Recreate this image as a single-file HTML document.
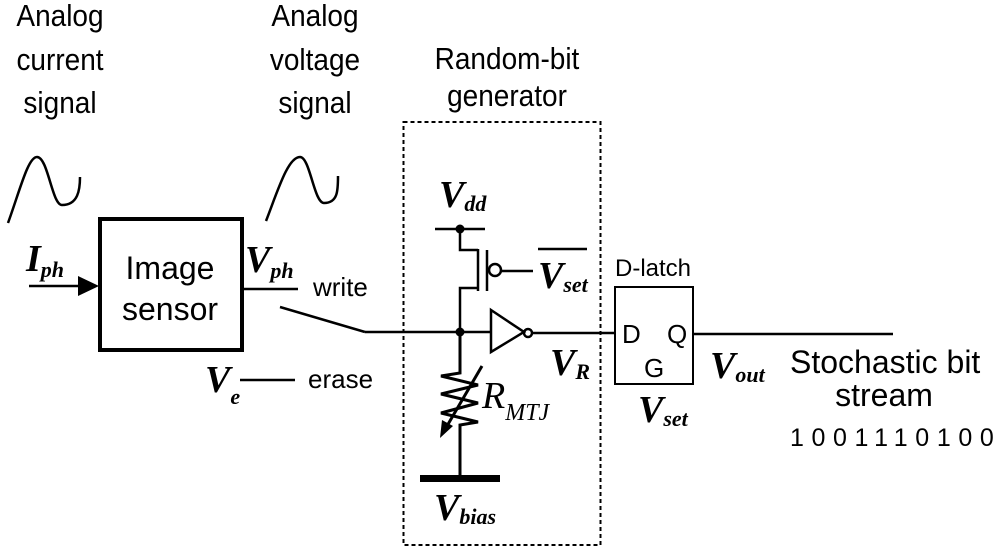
<!DOCTYPE html>
<html><head><style>
body{margin:0;background:#fff}
svg{display:block}
.s{font-family:"Liberation Sans",sans-serif;fill:#000}
.v{font-family:"Liberation Serif",serif;font-style:italic;font-weight:bold;fill:#000}
</style></head><body>
<svg width="996" height="548" viewBox="0 0 996 548" xmlns="http://www.w3.org/2000/svg">
<g class="s" font-size="28" text-anchor="middle">
<text x="60" y="26" transform="translate(0,-2.6) scale(1,1.1)">Analog</text><text x="60" y="70" transform="translate(0,-7) scale(1,1.1)">current</text><text x="60" y="113" transform="translate(0,-11.3) scale(1,1.1)">signal</text>
<text x="315" y="26" transform="translate(0,-2.6) scale(1,1.1)">Analog</text><text x="315" y="70" transform="translate(0,-7) scale(1,1.1)">voltage</text><text x="315" y="113" transform="translate(0,-11.3) scale(1,1.1)">signal</text>
<text x="507" y="69" transform="translate(0,-6.9) scale(1,1.1)">Random-bit</text><text x="507" y="106" transform="translate(0,-10.6) scale(1,1.1)">generator</text>
</g>
<g fill="none" stroke="#000" stroke-width="2.5">
<path d="M8 223 C20 190 28 157 37 157 C48 157 52 205 62 205 C78 205 80 190 80 177"/>
<path d="M266 221 C278 190 288 157 300 157 C310 157 314 203 324 203 C338 203 338 190 338 176"/>
<rect x="100" y="219" width="142" height="131" stroke-width="4"/>
<line x1="29" y1="286" x2="80" y2="286"/>
<line x1="242" y1="289" x2="298" y2="289"/>
<line x1="280" y1="307" x2="365" y2="332"/>
<line x1="365" y1="332" x2="491" y2="332"/>
<line x1="240" y1="380" x2="295" y2="380"/>
<rect x="403.5" y="122" width="197" height="423" stroke-width="2" stroke-dasharray="4,3"/>
<line x1="435" y1="229" x2="485" y2="229"/>
<path d="M460 229 V250 H478 M478 249 V291 M487 250 V291 M478 288 H460 V332"/>
<circle cx="495" cy="270" r="6"/>
<line x1="501" y1="271" x2="533" y2="271"/>
<line x1="538" y1="249" x2="587" y2="249"/>
<path d="M491 310 L524 332 L491 352 Z"/>
<circle cx="528" cy="333" r="4"/>
<line x1="532" y1="333" x2="615" y2="333"/>
<path d="M460 332 V373 L441 376 L478 385 L441 394 L478 403 L441 413 L478 422 L460 425 V478" stroke-width="3"/>
<line x1="482" y1="366" x2="447" y2="426" stroke-width="3"/>
<rect x="615" y="287" width="78" height="97" stroke-width="2"/>
<line x1="693" y1="334" x2="893" y2="334"/>
</g>
<path d="M78 276 L99 286 L78 296 Z"/>
<path d="M440 438 L442 420 L453 426 Z"/>
<circle cx="460" cy="229" r="4.5"/>
<circle cx="460" cy="332" r="4.5"/>
<rect x="420" y="475" width="80" height="7"/>
<g class="s" font-size="32" text-anchor="middle"><text x="170" y="279">Image</text><text x="170" y="320">sensor</text></g>
<g class="s" font-size="26"><text x="313" y="296">write</text><text x="308" y="388">erase</text></g>
<g class="s" font-size="24"><text x="615" y="276">D-latch</text></g>
<g class="s" font-size="26"><text x="622" y="343">D</text><text x="667" y="343">Q</text><text x="644" y="377">G</text></g>
<g class="s" font-size="32"><text x="790" y="373">Stochastic bit</text><text x="884" y="406" text-anchor="middle">stream</text></g>
<text class="s" x="790" y="446" font-size="25" letter-spacing="7.6">1001110100</text>
<g class="v" font-size="38">
<text x="26" y="271">I<tspan font-size="22" dy="6">ph</tspan></text>
<text x="245" y="272">V<tspan font-size="22" dy="6">ph</tspan></text>
<text x="205" y="392">V<tspan font-size="22" dy="12">e</tspan></text>
<text x="439" y="207">V<tspan font-size="22" dy="4">dd</tspan></text>
<text x="538" y="288">V<tspan font-size="22" dy="4">set</tspan></text>
<text x="550" y="375">V<tspan font-size="22" dy="4">R</tspan></text>
<text x="434" y="520">V<tspan font-size="22" dy="4">bias</tspan></text>
<text x="710" y="378">V<tspan font-size="22" dy="4">out</tspan></text>
<text x="638" y="422">V<tspan font-size="22" dy="4">set</tspan></text>
</g>
<text x="482" y="408" font-family="Liberation Serif,serif" font-style="italic" font-size="38">R<tspan font-size="24" dy="12">MTJ</tspan></text>
</svg>
</body></html>
